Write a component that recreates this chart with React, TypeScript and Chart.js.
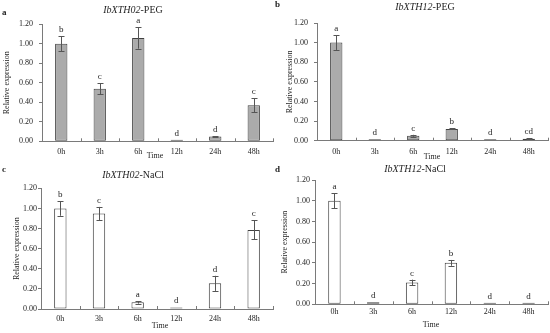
import React, { useEffect, useRef } from 'react';
import { Chart, registerables } from 'chart.js';
Chart.register(...registerables);

const categories = ['0h', '3h', '6h', '12h', '24h', '48h'];
const yMin = 0;
const yMax = 1.2;
const yStep = 0.2;

const peg02Values = [1.0, 0.54, 1.06, 0.005, 0.048, 0.37];
const peg02Errors = [0.075, 0.055, 0.11, 0, 0.006, 0.07];
const peg02Letters = ['b', 'c', 'a', 'd', 'd', 'c'];

const peg12Values = [1.0, 0.01, 0.05, 0.12, 0.004, 0.02];
const peg12Errors = [0.075, 0, 0.01, 0.005, 0, 0.003];
const peg12Letters = ['a', 'd', 'c', 'b', 'd', 'cd'];

const nacl02Values = [1.0, 0.95, 0.066, 0.004, 0.255, 0.786];
const nacl02Errors = [0.073, 0.065, 0.012, 0, 0.075, 0.095];
const nacl02Letters = ['b', 'c', 'a', 'd', 'd', 'c'];

const nacl12Values = [1.0, 0.02, 0.21, 0.4, 0.004, 0.016];
const nacl12Errors = [0.072, 0, 0.028, 0.028, 0, 0];
const nacl12Letters = ['a', 'd', 'c', 'b', 'd', 'd'];

const FONT = "'Liberation Serif', 'Times New Roman', serif";
const AXIS = '#7a7a7a';
const TEXT = '#1e1e1e';
const BAR_EDGE = '#404040';
const ERR = '#555555';

type Panel = {
  letter: string;
  gene: string;
  treatment: string;
  values: number[];
  errors: number[];
  sig: string[];
  fill: string;
  box: { x: number; y: number; w: number; h: number };
  area: { left: number; right: number; top: number; bottom: number };
  titlePos: [number, number];
  letterPos: [number, number];
  timePos: [number, number];
  yTitlePad: number;
  yTickPad: number;
  xTickPad: number;
};

const panels: Panel[] = [
  {
    letter: 'a', gene: 'IbXTH02', treatment: '-PEG',
    values: peg02Values, errors: peg02Errors, sig: peg02Letters, fill: '#ababab',
    box: { x: 0, y: 0, w: 275, h: 168 },
    area: { left: 42, right: 273, top: 24.3, bottom: 141.3 },
    titlePos: [133, 10], letterPos: [2, 13], timePos: [155, 155.5],
    yTitlePad: 2, yTickPad: 6, xTickPad: 5.6,
  },
  {
    letter: 'b', gene: 'IbXTH12', treatment: '-PEG',
    values: peg12Values, errors: peg12Errors, sig: peg12Letters, fill: '#ababab',
    box: { x: 275, y: 0, w: 275, h: 168 },
    area: { left: 42, right: 273, top: 23, bottom: 140.7 },
    titlePos: [150, 7.5], letterPos: [0, 5], timePos: [157, 156.5],
    yTitlePad: 10, yTickPad: 6, xTickPad: 6.2,
  },
  {
    letter: 'c', gene: 'IbXTH02', treatment: '-NaCl',
    values: nacl02Values, errors: nacl02Errors, sig: nacl02Letters, fill: '#ffffff',
    box: { x: 0, y: 160, w: 275, h: 173 },
    area: { left: 41, right: 273, top: 28.3, bottom: 149 },
    titlePos: [133, 15], letterPos: [2, 10], timePos: [160, 166],
    yTitlePad: 12, yTickPad: 1, xTickPad: 5.2,
  },
  {
    letter: 'd', gene: 'IbXTH12', treatment: '-NaCl',
    values: nacl12Values, errors: nacl12Errors, sig: nacl12Letters, fill: '#ffffff',
    box: { x: 275, y: 160, w: 275, h: 173 },
    area: { left: 40, right: 273, top: 20, bottom: 144.3 },
    titlePos: [140, 9.3], letterPos: [0, 10], timePos: [156, 165],
    yTitlePad: 5, yTickPad: 2, xTickPad: 2.6,
  },
];

function makePlugin(p: Panel) {
  return {
    id: 'extras-' + p.letter,
    afterDatasetsDraw(chart: any) {
      const ctx = chart.ctx as CanvasRenderingContext2D;
      const xs = chart.scales.x;
      const ys = chart.scales.y;
      const area = chart.chartArea;
      ctx.save();

      // category boundary ticks on x axis (pointing up)
      ctx.strokeStyle = AXIS;
      ctx.lineWidth = 1;
      const n = categories.length;
      const half = (xs.getPixelForValue(1) - xs.getPixelForValue(0)) / 2;
      for (let i = 0; i < n; i++) {
        const bx = Math.round(xs.getPixelForValue(i) + half) + 0.5;
        ctx.beginPath();
        ctx.moveTo(bx, area.bottom);
        ctx.lineTo(bx, area.bottom - 3);
        ctx.stroke();
      }

      // error bars and significance letters
      const meta = chart.getDatasetMeta(0);
      meta.data.forEach((bar: any, i: number) => {
        const v = p.values[i];
        const e = p.errors[i];
        const cx = Math.round(bar.x) + 0.5;
        let topY = bar.y;
        if (e > 0) {
          const yT = ys.getPixelForValue(v + e);
          const yB = ys.getPixelForValue(Math.max(0, v - e));
          ctx.strokeStyle = ERR;
          ctx.lineWidth = 1;
          ctx.beginPath();
          ctx.moveTo(cx, yT);
          ctx.lineTo(cx, yB);
          ctx.moveTo(cx - 3, Math.round(yT) + 0.5);
          ctx.lineTo(cx + 3, Math.round(yT) + 0.5);
          ctx.moveTo(cx - 3, Math.round(yB) + 0.5);
          ctx.lineTo(cx + 3, Math.round(yB) + 0.5);
          ctx.stroke();
          topY = Math.min(topY, yT);
        }
        ctx.fillStyle = TEXT;
        ctx.font = `9px ${FONT}`;
        ctx.textAlign = 'center';
        ctx.textBaseline = 'bottom';
        ctx.fillText(p.sig[i], bar.x, topY - 2);
      });

      // title: italic gene + normal treatment
      ctx.textBaseline = 'middle';
      ctx.textAlign = 'left';
      ctx.font = `italic 10px ${FONT}`;
      const w1 = ctx.measureText(p.gene).width;
      ctx.font = `10px ${FONT}`;
      const w2 = ctx.measureText(p.treatment).width;
      const sx = p.titlePos[0] - (w1 + w2) / 2;
      ctx.font = `italic 10px ${FONT}`;
      ctx.fillText(p.gene, sx, p.titlePos[1]);
      ctx.font = `10px ${FONT}`;
      ctx.fillText(p.treatment, sx + w1, p.titlePos[1]);

      // panel letter
      ctx.font = `bold 9px ${FONT}`;
      ctx.fillText(p.letter, p.letterPos[0], p.letterPos[1]);

      // x axis title
      ctx.font = `8px ${FONT}`;
      ctx.textAlign = 'center';
      ctx.fillText('Time', p.timePos[0], p.timePos[1]);

      ctx.restore();
    },
  };
}

function PanelChart({ p }: { p: Panel }) {
  const ref = useRef<HTMLCanvasElement>(null);
  useEffect(() => {
    if (!ref.current) return;
    const chart = new Chart(ref.current, {
      type: 'bar',
      data: {
        labels: categories,
        datasets: [
          {
            data: p.values,
            backgroundColor: p.fill,
            borderColor: BAR_EDGE,
            borderWidth: 1,
            borderSkipped: false,
            minBarLength: 1.5,
            barPercentage: 0.32,
            categoryPercentage: 1,
          },
        ],
      },
      options: {
        responsive: false,
        animation: false,
        layout: {
          padding: { left: 0, right: p.box.w - p.area.right, top: p.area.top, bottom: 0 },
        },
        plugins: {
          legend: { display: false },
          title: { display: false },
          tooltip: { enabled: false },
        },
        scales: {
          x: {
            grid: { display: false, drawTicks: false },
            border: { display: true, color: AXIS, width: 1 },
            ticks: { color: TEXT, font: { family: FONT, size: 8 }, padding: p.xTickPad, maxRotation: 0 },
            afterFit: (s: any) => {
              s.height = p.box.h - p.area.bottom;
            },
          },
          y: {
            min: yMin,
            max: yMax,
            grid: { display: true, drawOnChartArea: false, drawTicks: true, tickLength: 3, color: AXIS },
            border: { display: true, color: AXIS, width: 1 },
            ticks: {
              stepSize: yStep,
              color: TEXT,
              font: { family: FONT, size: 8 },
              padding: p.yTickPad,
              callback: (v: any) => Number(v).toFixed(2),
            },
            title: {
              display: true,
              text: 'Relative expression',
              color: TEXT,
              font: { family: FONT, size: 8 },
              padding: { top: p.yTitlePad, bottom: 0 },
            },
            afterFit: (s: any) => {
              s.width = p.area.left;
            },
          },
        },
      },
      plugins: [makePlugin(p)],
    } as any);
    return () => chart.destroy();
  }, [p]);
  return (
    <canvas
      ref={ref}
      width={p.box.w}
      height={p.box.h}
      style={{ position: 'absolute', left: p.box.x, top: p.box.y, width: p.box.w, height: p.box.h }}
    />
  );
}

export default function App() {
  return (
    <div style={{ position: 'fixed', left: 0, top: 0, width: 550, height: 333, background: '#ffffff', overflow: 'hidden' }}>
      {panels.map((p) => (
        <PanelChart key={p.letter} p={p} />
      ))}
    </div>
  );
}
